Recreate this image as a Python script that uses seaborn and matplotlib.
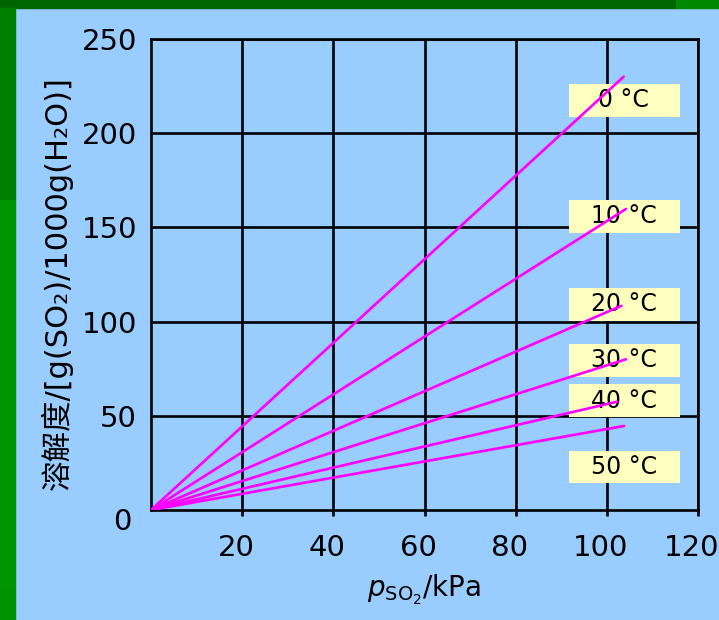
import numpy as np
import pandas as pd
import matplotlib
matplotlib.use('Agg')
import matplotlib.pyplot as plt
import matplotlib.transforms as mtransforms
from matplotlib.patches import Rectangle
import seaborn as sns

# SO2 solubility lines: end point of each straight line from the origin
temps = ['0 °C', '10 °C', '20 °C', '30 °C', '40 °C', '50 °C']
p_end = [103.7, 104.2, 103.2, 104.2, 102.3, 103.8]
s_end = [230.0, 159.8, 108.4, 80.0, 57.5, 44.6]

x_ticks = [20, 40, 60, 80, 100, 120]
y_ticks = [50, 100, 150, 200, 250]

# where the yellow temperature tags sit (y, data units)
tag_y = [217.4, 155.8, 109.1, 79.4, 58.1, 22.8]

rows = []
for t, p, s in zip(temps, p_end, s_end):
    rows.append({'p': 0.0, 's': 0.0, 'temp': t})
    rows.append({'p': p, 's': s, 'temp': t})
df = pd.DataFrame(rows)

bg = '#99CCFF'
sns.set_style('ticks', {'axes.facecolor': bg, 'figure.facecolor': bg})
plt.rcParams['font.family'] = ['DejaVu Sans', 'Noto Sans CJK SC']
plt.rcParams['text.color'] = 'black'
plt.rcParams['axes.labelcolor'] = 'black'
plt.rcParams['xtick.color'] = 'black'
plt.rcParams['ytick.color'] = 'black'

fig = plt.figure(figsize=(7.19, 6.2), dpi=100)
fig.patch.set_facecolor(bg)

# green frame strips
fig.patches.append(Rectangle((0, 1 - 8 / 620), 676 / 719, 8 / 620, transform=fig.transFigure,
                             color='#006600', zorder=0))
fig.patches.append(Rectangle((676 / 719, 1 - 8 / 620), 43 / 719, 8 / 620, transform=fig.transFigure,
                             color='#008800', zorder=0))
fig.patches.append(Rectangle((0, 420 / 620), 15 / 719, 192 / 620, transform=fig.transFigure,
                             color='#008000', zorder=0))
fig.patches.append(Rectangle((0, 33 / 620), 15 / 719, 387 / 620, transform=fig.transFigure,
                             color='#009600', zorder=0))
fig.patches.append(Rectangle((0, 0), 15 / 719, 33 / 620, transform=fig.transFigure,
                             color='#009200', zorder=0))

ax = fig.add_axes([151 / 719, 110 / 620, 547 / 719, 471 / 620])
ax.set_facecolor(bg)

sns.lineplot(data=df, x='p', y='s', hue='temp', units='temp', estimator=None,
             palette=['#FF00FF'] * len(temps), linewidth=1.9, legend=False,
             ax=ax, zorder=3, sort=False)

ax.set_xlim(0, 120)
ax.set_ylim(0, 250)
ax.set_xticks(x_ticks)
ax.set_yticks(y_ticks)
ax.set_axisbelow(True)
ax.grid(True, color='black', linewidth=1.9)
for sp in ax.spines.values():
    sp.set_color('black')
    sp.set_linewidth(1.9)
    sp.set_visible(True)

ax.tick_params(axis='x', length=4, width=1.9, direction='out', pad=13, labelsize=21)
ax.tick_params(axis='y', length=0, pad=10, labelsize=21)

ax.annotate('0', xy=(0, 0), xycoords='data', xytext=(-21, -9), textcoords='offset points',
            ha='center', va='center', fontsize=21)

ax.set_xlabel(r'$p_{\mathrm{SO_2}}$/kPa', fontsize=20, labelpad=8)
ax.set_ylabel('溶解度/[g(SO₂)/1000g(H₂O)]', fontsize=22)
ax.yaxis.set_label_coords(-0.143, (510 - 283) / 471)

# yellow temperature tags
for t, y in zip(temps, tag_y):
    ax.add_patch(Rectangle((91.6, y - 8.7), 24.4, 17.4, facecolor='#FFFFC0',
                           edgecolor='none', zorder=2))
    ax.text(103.7, y, t, ha='center', va='center', fontsize=17, zorder=2.1)

# x tick labels sit a little left of their grid lines in the reference
fig.canvas.draw()
shift = mtransforms.ScaledTranslation(-6 / 100, 0, fig.dpi_scale_trans)
for lab in ax.get_xticklabels():
    lab.set_transform(lab.get_transform() + shift)

fig.savefig('out.png', dpi=100, facecolor=bg)
